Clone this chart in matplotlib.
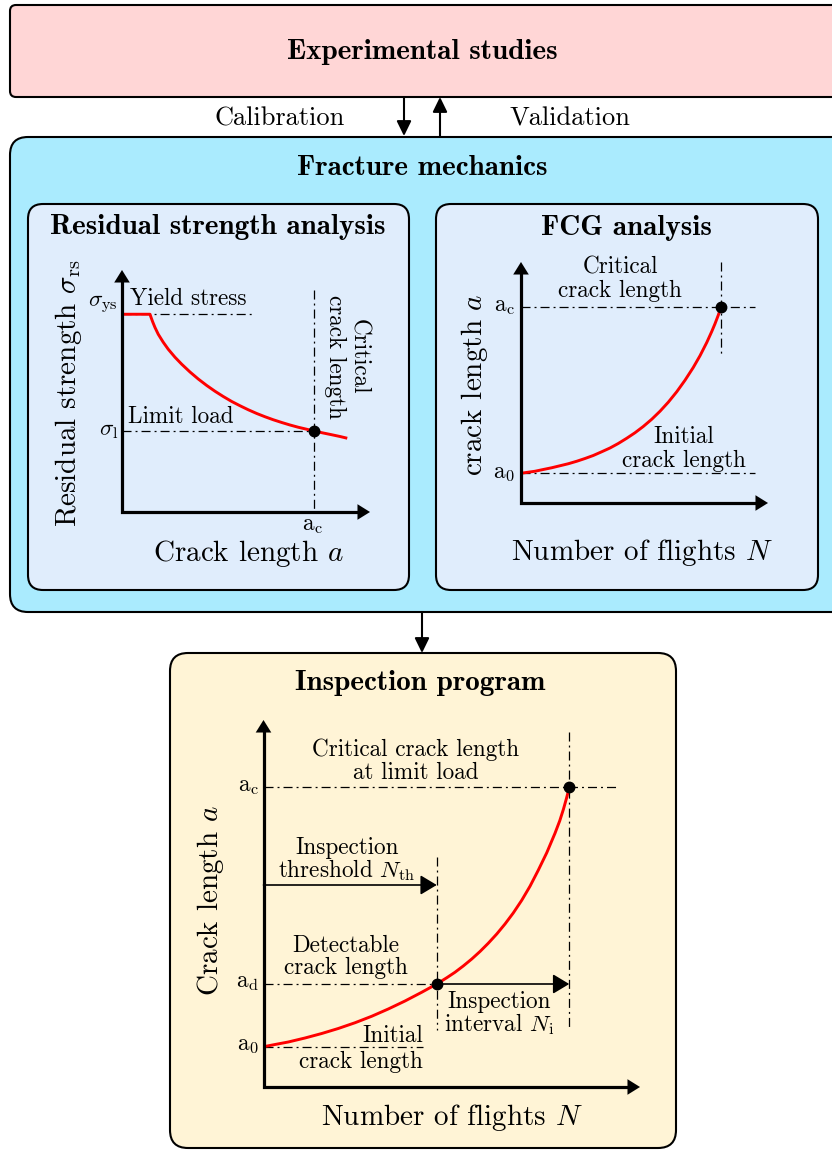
import matplotlib
matplotlib.use('Agg')
import matplotlib.pyplot as plt
from matplotlib.patches import FancyBboxPatch

plt.rcParams['mathtext.fontset'] = 'cm'
plt.rcParams['font.family'] = ['cmr10', 'DejaVu Serif']
plt.rcParams['axes.unicode_minus'] = False
plt.rcParams['lines.scale_dashes'] = False

W, H = 832, 1150
U = 25.0  # pixels per chart unit

# ---------------- data ----------------
# Residual strength analysis (crack length vs residual strength)
rs_crack = [0.0, 1.12, 1.16, 1.23, 1.32, 1.45, 1.65, 1.85, 2.12, 2.39, 2.72, 3.05, 3.39, 3.72,
            4.05, 4.39, 4.72, 5.05, 5.39, 5.72, 6.05, 6.39, 6.72, 7.05, 7.39, 7.68, 8.05, 8.39,
            8.72, 9.01]
rs_strength = [7.91, 7.91, 7.79, 7.60, 7.38, 7.11, 6.79, 6.51, 6.19, 5.91, 5.60, 5.32, 5.06, 4.83,
               4.62, 4.42, 4.25, 4.09, 3.94, 3.81, 3.69, 3.58, 3.48, 3.39, 3.31, 3.24, 3.16, 3.09,
               3.02, 2.95]
rs_sigma_ys = 7.91
rs_sigma_l = 3.24
rs_a_c = 7.68

# FCG analysis (flights vs crack length)
fcg_flights = [0.0, 0.56, 0.89, 1.23, 1.56, 1.89, 2.23, 2.56, 2.89, 3.23, 3.56, 3.89, 4.23, 4.56,
               4.89, 5.23, 5.56, 5.89, 6.23, 6.56, 6.89, 7.16, 7.43, 7.63, 7.76, 7.89, 8.0]
fcg_crack = [1.19, 1.27, 1.34, 1.41, 1.49, 1.57, 1.67, 1.78, 1.90, 2.05, 2.20, 2.38, 2.59, 2.81,
             3.06, 3.35, 3.67, 4.03, 4.45, 4.91, 5.42, 5.89, 6.42, 6.86, 7.17, 7.51, 7.83]
fcg_a_0 = 1.19
fcg_a_c = 7.83
fcg_N_c = 8.0

# Inspection program (flights vs crack length)
insp_flights = [0.0, 0.46, 0.99, 1.66, 2.33, 2.99, 3.66, 4.33, 4.99, 5.66, 6.33, 6.93, 7.33, 7.66,
                7.99, 8.33, 8.66, 8.99, 9.33, 9.66, 9.99, 10.33, 10.66, 10.99, 11.33, 11.66,
                11.85, 12.0, 12.12, 12.2, 12.23]
insp_crack = [1.61, 1.70, 1.80, 1.96, 2.14, 2.34, 2.57, 2.83, 3.12, 3.44, 3.79, 4.12, 4.37, 4.59,
              4.84, 5.12, 5.42, 5.75, 6.12, 6.52, 6.96, 7.47, 8.03, 8.67, 9.37, 10.15,
              10.65, 11.12, 11.55, 11.86, 12.01]
insp_a_0 = 1.61
insp_a_d = 4.12
insp_a_c = 12.01
insp_N_th = 6.93
insp_N_c = 12.23
insp_thr_level = 8.08

# ---------------- styles ----------------
DD = (0, (6.5, 2.9, 1.4, 2.9))
RED = '#FF0000'
F_TITLE = 21
F_LINK = 19
F_ANN = 16.7
F_AX = 21

fig = plt.figure(figsize=(W / 100, H / 100), dpi=100)
bg = fig.add_axes([0, 0, 1, 1])
bg.set_xlim(0, W)
bg.set_ylim(H, 0)
bg.axis('off')


def box(x0, y0, x1, y1, r, fc):
    p = FancyBboxPatch((x0, y0), x1 - x0, y1 - y0,
                       boxstyle=f"round,pad=0,rounding_size={r}",
                       fc=fc, ec='black', lw=1.5, clip_on=False)
    bg.add_patch(p)


def link_arrow(x, y_from, y_to):
    bg.annotate('', xy=(x, y_to), xytext=(x, y_from),
                arrowprops=dict(arrowstyle='-|>,head_length=0.45,head_width=0.22',
                                lw=1.5, color='black', mutation_scale=20,
                                shrinkA=0, shrinkB=0))


def txt(x, y, s, size=F_ANN, ha='center', va='baseline', **kw):
    bg.text(x, y, s, fontsize=size, ha=ha, va=va, color='black', **kw)


# boxes
box(10, 5, 846, 97, 6, '#FFD6D6')
box(10, 137, 850, 612, 18, '#AAEBFE')
box(28, 204, 409, 590, 15, '#E0EDFC')
box(436, 204, 818, 590, 15, '#E0EDFC')
box(170, 653, 676, 1148, 18, '#FFF4D6')

link_arrow(404, 97, 136)
link_arrow(440, 136, 97)
link_arrow(422, 612, 653)

# titles / link labels
txt(422, 59, 'Experimental studies', size=F_TITLE, family='cmb10')
txt(280, 125, 'Calibration', size=F_LINK)
txt(570, 125, 'Validation', size=F_LINK)
txt(422, 175, 'Fracture mechanics', size=F_TITLE, family='cmb10')
txt(218, 234, 'Residual strength analysis', size=F_TITLE, family='cmb10')
txt(626, 235, 'FCG analysis', size=F_TITLE, family='cmb10')
txt(420, 690, 'Inspection program', size=F_TITLE, family='cmb10')


def chart(ox, oy, xmax, ymax):
    ax = fig.add_axes([ox / W, 1 - oy / H, xmax * U / W, ymax * U / H])
    ax.set_xlim(0, xmax)
    ax.set_ylim(0, ymax)
    ax.axis('off')
    return ax


def axis_arrows(ax, xtip, ytip):
    ax.plot([0, 0, xtip - 0.3], [ytip - 0.3, 0, 0], color='black', lw=2.3,
            solid_joinstyle='miter', solid_capstyle='butt', clip_on=False, zorder=5)
    for tip in [(xtip, 0), (0, ytip)]:
        ax.annotate('', xy=tip, xytext=(0, 0),
                    arrowprops=dict(arrowstyle='-|>,head_length=0.45,head_width=0.28',
                                    lw=0.01, color='black', mutation_scale=20,
                                    shrinkA=0, shrinkB=0), zorder=5)


def hand_arrow(ax, start, end):
    ax.annotate('', xy=end, xytext=start,
                arrowprops=dict(arrowstyle='-|>,head_length=0.5,head_width=0.3',
                                lw=1.2, color='black', mutation_scale=20,
                                shrinkA=0, shrinkB=0), zorder=3)


def dd(ax, xs, ys):
    ax.plot(xs, ys, color='black', lw=0.9, ls=DD, clip_on=False, zorder=2)


def dot(ax, x, y):
    ax.plot([x], [y], 'o', color='black', ms=7.5, clip_on=False, zorder=6)


def red(ax, xs, ys):
    ax.plot(xs, ys, color=RED, lw=2.1, clip_on=False, zorder=4,
            solid_joinstyle='round', solid_capstyle='butt')


# ---------- Residual strength chart ----------
ax1 = chart(122, 512, 10, 10)
dd(ax1, [0, 5.3], [rs_sigma_ys, rs_sigma_ys])
dd(ax1, [0, rs_a_c], [rs_sigma_l, rs_sigma_l])
dd(ax1, [rs_a_c, rs_a_c], [8.88, 0])
red(ax1, rs_crack, rs_strength)
dot(ax1, rs_a_c, rs_sigma_l)
axis_arrows(ax1, 9.92, 9.68)

txt(118, 306, r'$\sigma_\mathrm{ys}$', ha='right')
txt(130, 305, 'Yield stress', ha='left')
txt(128, 423, 'Limit load', ha='left')
txt(118, 435, r'$\sigma_\mathrm{l}$', ha='right')
txt(313, 530, r'$\mathrm{a}_\mathrm{c}$')
txt(248, 561, r'Crack length $a$', size=F_AX)
txt(69, 393, r'Residual strength $\sigma_\mathrm{rs}$', size=F_AX, va='center', rotation=90)
txt(347, 357, 'Critical\ncrack length', va='center', rotation=-90,
    multialignment='center', linespacing=1.05)

# ---------- FCG chart ----------
ax2 = chart(521, 503, 10, 10)
dd(ax2, [0, 9.36], [fcg_a_c, fcg_a_c])
dd(ax2, [0, 9.36], [fcg_a_0, fcg_a_0])
dd(ax2, [fcg_N_c, fcg_N_c], [9.64, 5.88])
red(ax2, fcg_flights, fcg_crack)
dot(ax2, fcg_N_c, fcg_a_c)
axis_arrows(ax2, 9.88, 9.64)

txt(515, 311, r'$\mathrm{a}_\mathrm{c}$', ha='right')
txt(515, 478, r'$\mathrm{a}_0$', ha='right')
txt(620, 273, 'Critical')
txt(620, 297, 'crack length')
txt(684, 443, 'Initial')
txt(684, 467, 'crack length')
txt(474, 385, r'crack length $a$', size=F_AX, va='center', rotation=90)
txt(642, 560, r'Number of flights $N$', size=F_AX)

# ---------- Inspection chart ----------
ax3 = chart(263.5, 1087, 16, 15)
dd(ax3, [0, 14.14], [insp_a_c, insp_a_c])
dd(ax3, [0, insp_N_th], [insp_a_d, insp_a_d])
dd(ax3, [0, 6.38], [insp_a_0, insp_a_0])
dd(ax3, [insp_N_th, insp_N_th], [9.19, 2.28])
dd(ax3, [insp_N_c, insp_N_c], [14.2, 2.28])
hand_arrow(ax3, (0, insp_thr_level), (insp_N_th, insp_thr_level))
hand_arrow(ax3, (insp_N_th, insp_a_d), (insp_N_c, insp_a_d))
red(ax3, insp_flights, insp_crack)
dot(ax3, insp_N_th, insp_a_d)
dot(ax3, insp_N_c, insp_a_c)
axis_arrows(ax3, 15.06, 14.68)

txt(259, 791, r'$\mathrm{a}_\mathrm{c}$', ha='right')
txt(259, 987, r'$\mathrm{a}_\mathrm{d}$', ha='right')
txt(259, 1050, r'$\mathrm{a}_0$', ha='right')
txt(416, 756, 'Critical crack length')
txt(416, 779, 'at limit load')
txt(347, 854, 'Inspection')
txt(347, 877, r'threshold $N_\mathrm{th}$')
txt(346, 952, 'Detectable')
txt(346, 974, 'crack length')
txt(499, 1008, 'Inspection')
txt(499, 1031, r'interval $N_\mathrm{i}$')
txt(423, 1042, 'Initial', ha='right')
txt(423, 1068, 'crack length', ha='right')
txt(210, 901, r'Crack length $a$', size=F_AX, va='center', rotation=90)
txt(452, 1125, r'Number of flights $N$', size=F_AX)

fig.savefig('out.png', dpi=100)
